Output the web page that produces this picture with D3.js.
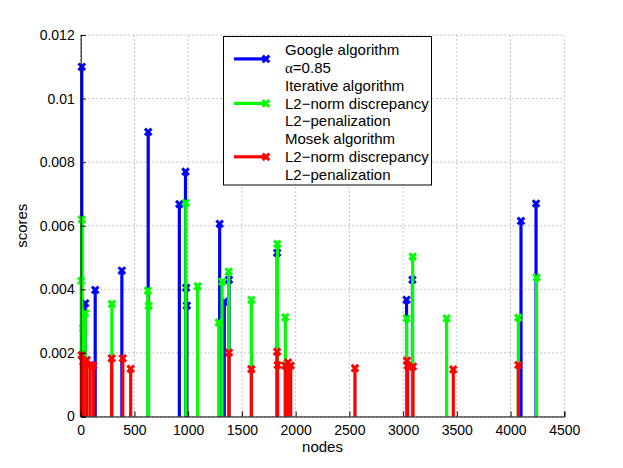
<!DOCTYPE html>
<html>
<head>
<meta charset="utf-8">
<script src="https://cdn.jsdelivr.net/npm/d3@7"></script>
<style>
  body { margin: 0; background: #fff; }
  svg { font-family: "Liberation Sans", Arial, sans-serif; }
</style>
</head>
<body>
<div id="container"></div>
<script>
/* CONSTANTS AND GLOBALS */
const width = 623,
  height = 468,
  margin = { top: 35, bottom: 51.5, left: 80.7, right: 58.7 };

/* DATA */
const googleNodes = [10, 42, 135, 383, 628, 918, 975, 982, 988, 1293, 1336, 1380, 1828, 3032, 3087, 4097, 4237];
const googleScores = [0.0110, 0.00356, 0.00398, 0.00459, 0.00895, 0.00668, 0.0077, 0.00405, 0.00349, 0.00606, 0.00361, 0.0043, 0.00515, 0.00367, 0.0043, 0.00615, 0.0067];

const iterNodes = [5, 10, 22, 42, 290, 625, 632, 978, 1088, 1284, 1315, 1377, 1588, 1830, 1904, 3033, 3089, 3405, 4072, 4242];
const iterScores = [0.00427, 0.0062, 0.00278, 0.00325, 0.00354, 0.00396, 0.00348, 0.00672, 0.0041, 0.00296, 0.00424, 0.00456, 0.00367, 0.00543, 0.00312, 0.00309, 0.00503, 0.00309, 0.00311, 0.00437];

const mosekNodes = [8, 24, 56, 87, 117, 288, 392, 465, 1380, 1588, 1828, 1832, 1904, 1929, 1954, 2552, 3036, 3042, 3092, 3467, 4072];
const mosekScores = [0.00193, 0.00172, 0.00178, 0.00162, 0.0016, 0.00183, 0.00183, 0.0015, 0.00201, 0.00149, 0.00204, 0.00162, 0.0016, 0.0017, 0.0016, 0.00152, 0.00176, 0.0016, 0.00157, 0.00148, 0.00162];

const xTicks = [0, 500, 1000, 1500, 2000, 2500, 3000, 3500, 4000, 4500];
const yTicks = [0, 0.002, 0.004, 0.006, 0.008, 0.01, 0.012];

const seriesNames = ["Google", "Iterative", "Mosek"];
const seriesColors = ["#0000ff", "#00ff00", "#ff0000"];
const legendLines = [
  ["Google algorithm", "\u03b1=0.85"],
  ["Iterative algorithm", "L2\u2212norm discrepancy", "L2\u2212penalization"],
  ["Mosek algorithm", "L2\u2212norm discrepancy", "L2\u2212penalization"]
];

const series = [
  { nodes: googleNodes, scores: googleScores },
  { nodes: iterNodes, scores: iterScores },
  { nodes: mosekNodes, scores: mosekScores }
].map((s, i) => ({
  name: seriesNames[i],
  color: seriesColors[i],
  points: s.nodes.map((n, j) => ({ n, v: s.scores[j] }))
}));

/* SCALES */
const xScale = d3.scaleLinear()
  .domain([0, 4500])
  .range([margin.left, width - margin.right]);

const yScale = d3.scaleLinear()
  .domain([0, 0.012])
  .range([height - margin.bottom, margin.top]);

const svg = d3.select("#container")
  .append("svg")
  .attr("width", width)
  .attr("height", height);

// + GRID (dotted, like matlab)
svg.append("g")
  .selectAll("line")
  .data(xTicks)
  .join("line")
  .attr("x1", d => xScale(d)).attr("x2", d => xScale(d))
  .attr("y1", yScale(0)).attr("y2", yScale(0.012))
  .attr("stroke", "#8a8a8a")
  .attr("stroke-width", 1)
  .attr("stroke-dasharray", "1,3");

svg.append("g")
  .selectAll("line")
  .data(yTicks)
  .join("line")
  .attr("x1", xScale(0)).attr("x2", xScale(4500))
  .attr("y1", d => yScale(d)).attr("y2", d => yScale(d))
  .attr("stroke", "#8a8a8a")
  .attr("stroke-width", 1)
  .attr("stroke-dasharray", "1,3");

// + STEMS AND MARKERS
const xMark = s => `M${-s},${-s}L${s},${s}M${-s},${s}L${s},${-s}`;

series.forEach(s => {
  const g = svg.append("g");
  g.selectAll("line")
    .data(s.points)
    .join("line")
    .attr("x1", d => xScale(d.n)).attr("x2", d => xScale(d.n))
    .attr("y1", yScale(0)).attr("y2", d => yScale(d.v))
    .attr("stroke", s.color)
    .attr("stroke-width", 3.2);
  g.selectAll("path")
    .data(s.points)
    .join("path")
    .attr("transform", d => `translate(${xScale(d.n)},${yScale(d.v)})`)
    .attr("d", xMark(3.3))
    .attr("stroke", s.color)
    .attr("stroke-width", 3)
    .attr("fill", "none");
});

// + AXES
const xAxis = d3.axisBottom(xScale).tickValues(xTicks).tickSize(-5).tickPadding(9)
  .tickFormat(d3.format("d"));
const yAxis = d3.axisLeft(yScale).tickValues(yTicks).tickSize(-5).tickPadding(6)
  .tickFormat(d => d === 0 ? "0" : String(+d.toFixed(3)));

const gx = svg.append("g")
  .attr("transform", `translate(0,${yScale(0)})`)
  .call(xAxis);
const gy = svg.append("g")
  .attr("transform", `translate(${xScale(0)},0)`)
  .call(yAxis);

[gx, gy].forEach(g => {
  g.select(".domain").attr("stroke", "#000").attr("stroke-width", 1);
  g.selectAll(".tick line").attr("stroke", "#000");
  g.selectAll("text").attr("font-size", 14).attr("fill", "#000")
    .attr("font-family", "Liberation Sans, Arial, sans-serif");
});

svg.append("text")
  .attr("x", (xScale(0) + xScale(4500)) / 2)
  .attr("y", 452)
  .attr("text-anchor", "middle")
  .attr("font-size", 15)
  .text("nodes");

svg.append("text")
  .attr("transform", `translate(27,${(yScale(0) + yScale(0.012)) / 2}) rotate(-90)`)
  .attr("text-anchor", "middle")
  .attr("font-size", 15)
  .text("scores");

// + LEGEND
const legend = svg.append("g");
legend.append("rect")
  .attr("x", 223.5).attr("y", 36.5)
  .attr("width", 208).attr("height", 148.5)
  .attr("fill", "#fff")
  .attr("stroke", "#000")
  .attr("stroke-width", 1);

const rowH = 17.8;
let row = 0;
legendLines.forEach((lines, i) => {
  const top = 50 + row * rowH;
  const mid = top + (lines.length - 1) * rowH / 2;
  legend.append("line")
    .attr("x1", 234).attr("x2", 266)
    .attr("y1", mid).attr("y2", mid)
    .attr("stroke", seriesColors[i])
    .attr("stroke-width", 3.2);
  legend.append("path")
    .attr("transform", `translate(266,${mid})`)
    .attr("d", xMark(3.3))
    .attr("stroke", seriesColors[i])
    .attr("stroke-width", 3)
    .attr("fill", "none");
  lines.forEach((t, k) => {
    const txt = legend.append("text")
      .attr("x", 285)
      .attr("y", top + k * rowH)
      .attr("dy", "0.35em")
      .attr("font-size", 15);
    if (t.startsWith("\u03b1")) {
      // greek alpha is set in a serif face in the original
      txt.append("tspan").attr("font-family", "Liberation Serif, serif").text("\u03b1");
      txt.append("tspan").text(t.slice(1));
    } else {
      txt.text(t);
    }
  });
  row += lines.length;
});
</script>
</body>
</html>
